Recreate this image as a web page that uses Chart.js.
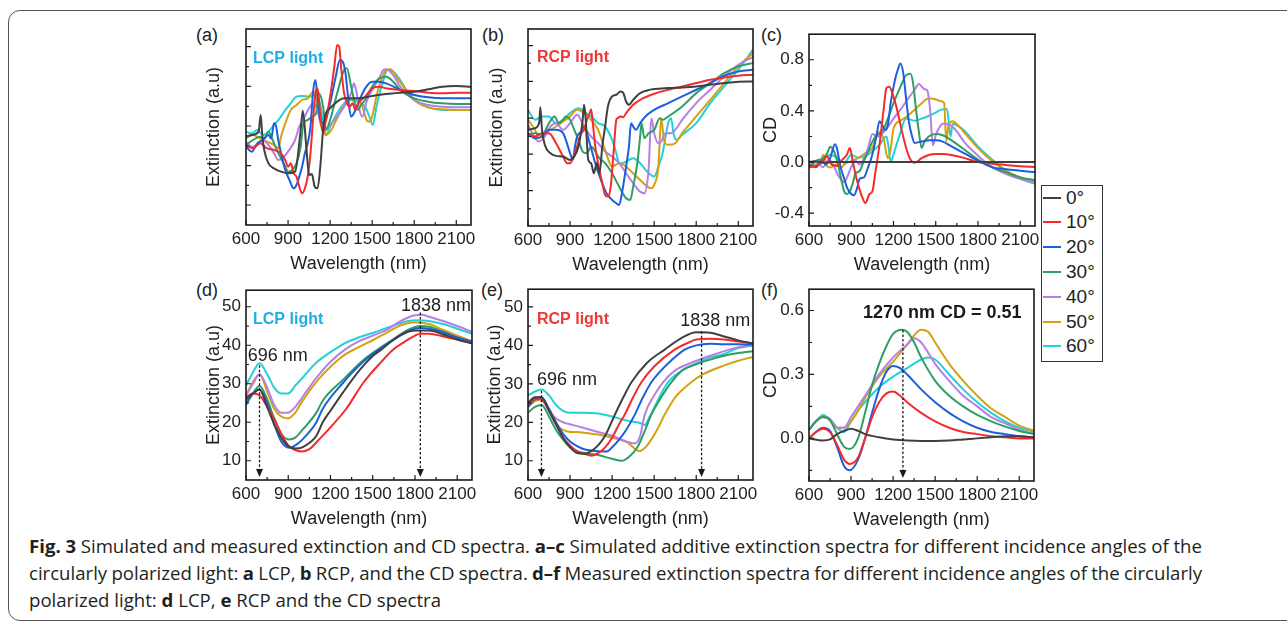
<!DOCTYPE html>
<html>
<head>
<meta charset="utf-8">
<script src="https://cdn.jsdelivr.net/npm/chart.js@4.4.1/dist/chart.umd.min.js"></script>
<style>
body { margin: 0; background: #fff; width: 1287px; height: 628px; overflow: hidden; position: relative; font-family: 'Liberation Sans', Arial, sans-serif; color: #222; }
#border { position: absolute; left: 8px; top: 10px; width: 1320px; height: 611px; border: 1.5px solid #555; border-radius: 12px; box-sizing: border-box; }
canvas { position: absolute; }
.lab { position: absolute; font-size: 18px; line-height: 20px; }
#legend { position: absolute; left: 1041px; top: 185px; width: 62px; height: 177px; border: 1.5px solid #333; box-sizing: border-box; background: #fff; }
.item { position: absolute; left: 0; height: 22px; font-size: 19px; line-height: 22px; }
.item i { position: absolute; left: 1px; top: 10px; width: 18px; height: 2px; }
.item span { position: absolute; left: 24px; top: 0; white-space: nowrap; }
.cap { position: absolute; left: 29px; font-family: 'Open Sans', sans-serif; font-size: 18px; line-height: 26px; white-space: nowrap; color: #231f20; transform-origin: 0 50%; }
</style>
</head>
<body>
<div id="border"></div>
<div class="lab" style="left:196px;top:25px">(a)</div>
<div class="lab" style="left:482px;top:25px">(b)</div>
<div class="lab" style="left:761px;top:25px">(c)</div>
<div class="lab" style="left:196px;top:280px">(d)</div>
<div class="lab" style="left:481px;top:280px">(e)</div>
<div class="lab" style="left:761px;top:280px">(f)</div>
<div id="legend"></div>
<div class="cap" data-w="1173" style="top:533px"><b>Fig. 3</b> Simulated and measured extinction and CD spectra. <b>a–c</b> Simulated additive extinction spectra for different incidence angles of the</div>
<div class="cap" data-w="1173" style="top:560px">circularly polarized light: <b>a</b> LCP, <b>b</b> RCP, and the CD spectra. <b>d–f</b> Measured extinction spectra for different incidence angles of the circularly</div>
<div class="cap" data-w="412" style="top:587px">polarized light: <b>d</b> LCP, <b>e</b> RCP and the CD spectra</div>
<script>
const angles = ['0°', '10°', '20°', '30°', '40°', '50°', '60°'];
const colors = ['#404040', '#f52a2a', '#1c5fdc', '#2f9e62', '#b87ee8', '#d4a20e', '#22d0d8'];
const xMajor = [600, 900, 1200, 1500, 1800, 2100];
const xMinor = [750, 1050, 1350, 1650, 1950];

// (a) simulated, LCP  [wavelength nm, extinction a.u.]
const a0 = [[600,26.5],[640,27],[690,28],[705,33],[715,27.5],[730,22.5],[760,18.5],[800,17],[850,16],[900,15.5],[950,16],[990,28.5],[1005,34.3],[1030,23.5],[1050,15],[1070,15.3],[1090,11.5],[1110,11],[1130,17.5],[1150,28.5],[1170,33.5],[1200,35],[1250,37],[1300,38],[1400,38],[1500,38.7],[1600,39.3],[1700,39.7],[1800,40],[1900,40.7],[2000,41.5],[2100,41.7],[2205,41.5]];
const a1 = [[600,24],[650,23],[700,24.5],[750,23],[800,22.5],[850,21.5],[880,19.5],[900,17.5],[920,18.5],[940,15.5],[960,14.5],[980,11.5],[1000,9.5],[1020,11],[1040,14.5],[1060,21.5],[1080,32.5],[1100,40.5],[1110,41],[1130,33.5],[1150,27.5],[1170,31.5],[1200,38.5],[1230,47.5],[1250,54],[1265,53.5],[1280,46.5],[1300,39.5],[1320,36.5],[1340,35.5],[1360,36.5],[1380,34.5],[1400,36.5],[1450,38.5],[1500,41],[1550,41.5],[1600,41],[1650,40.7],[1700,40.5],[1800,40.2],[1900,39.7],[2000,39.5],[2100,39.7],[2205,39.7]];
const a2 = [[600,23.5],[640,22],[680,24.5],[720,25.5],[760,27],[780,26],[800,30.5],[815,29.5],[830,25.5],[850,21.5],[880,16.5],[910,13.5],[940,11],[960,12],[980,14.5],[1000,17.5],[1020,21.5],[1040,24.5],[1060,29.5],[1080,40.5],[1095,43.5],[1110,38.5],[1130,31.5],[1150,30.5],[1170,31.5],[1200,36.5],[1240,44.5],[1270,49.5],[1290,49],[1310,45.5],[1330,37.5],[1350,32.5],[1370,33.5],[1400,36.5],[1450,41],[1500,43],[1550,43],[1600,42.5],[1700,40.5],[1800,39],[1900,38.3],[2000,38],[2100,38],[2205,38]];
const a3 = [[600,24],[650,25.5],[700,26.5],[730,26],[760,28],[790,25.5],[820,22.5],[850,20],[880,17.5],[900,16],[930,16.5],[960,18.5],[990,23.5],[1010,30.5],[1040,31.5],[1070,32.5],[1100,33.5],[1120,39.5],[1150,35.5],[1170,28.5],[1200,31.5],[1250,39.5],[1300,46.5],[1320,47],[1350,41.5],[1380,36],[1400,34.5],[1420,36],[1450,37.5],[1500,41.5],[1550,44],[1600,44.5],[1650,43],[1700,40.5],[1800,38],[1900,37],[2000,36.5],[2100,36.3],[2205,36.3]];
const a4 = [[600,25],[640,23.5],[680,24],[720,25.5],[760,24],[800,21.5],[830,19.5],[860,20],[900,22],[950,25.5],[980,29.5],[1000,31],[1050,35],[1080,36.5],[1100,35.5],[1130,31.5],[1160,28.5],[1200,30],[1250,32.5],[1300,35.5],[1350,39.5],[1370,42.5],[1390,39.5],[1410,34.5],[1430,32.5],[1460,37],[1500,40.5],[1550,44],[1580,46.5],[1600,46.7],[1650,45],[1700,41.5],[1800,37.5],[1900,36],[2000,35.5],[2100,35.3],[2205,35.3]];
const a5 = [[600,26],[650,27],[700,26],[750,25],[800,24],[830,23],[850,26.5],[880,30.5],[920,34.5],[960,36],[1000,37.5],[1040,38],[1080,40],[1100,38.5],[1130,30.5],[1170,27],[1200,28],[1250,32],[1300,36],[1350,37.7],[1400,37.7],[1430,35.5],[1460,31.5],[1480,31],[1500,32.5],[1530,38.5],[1560,43],[1600,46.5],[1630,46.7],[1680,44],[1750,40],[1800,37.5],[1900,35.3],[2000,34.7],[2100,34.5],[2205,34.5]];
const a6 = [[600,28],[640,27.5],[680,28.5],[720,27],[760,28],[790,29.5],[840,32],[880,34.5],[910,36],[960,38.5],[1000,38.7],[1050,38.5],[1100,39],[1130,36],[1150,31],[1170,27],[1200,29.5],[1250,33.5],[1300,36.5],[1340,37.5],[1400,37],[1450,35.5],[1480,32.5],[1505,30],[1530,35.5],[1570,42],[1610,46.5],[1650,46],[1700,43.5],[1750,40],[1800,37.5],[1900,35.3],[2000,34.5],[2100,34.5],[2205,34.5]];

// (b) simulated, RCP
const b0 = [[600,28.8],[650,29.3],[680,31],[688,35.6],[700,28.8],[720,24.3],[760,21.8],[800,21],[850,20.8],[900,19.8],[930,20.8],[960,23.8],[990,31.8],[1000,36.3],[1010,32.8],[1030,19.8],[1050,18.8],[1070,15.8],[1090,18.8],[1110,15.8],[1130,23.8],[1150,29.8],[1170,35.8],[1200,38.8],[1230,39.3],[1260,40.3],[1280,39.8],[1300,37.3],[1320,36.3],[1350,37.8],[1400,39.8],[1450,40.6],[1500,41],[1600,41.3],[1700,41.5],[1800,41.8],[1900,42.3],[2000,42.8],[2100,43.2],[2205,43.3]];
const b1 = [[600,27.3],[650,26.8],[700,27.8],[750,27.8],[800,24.8],[850,20.8],[880,18.8],[900,18.8],[920,20.3],[950,23.8],[980,27.8],[1000,28.8],[1020,31.8],[1040,33.8],[1050,35],[1060,31.8],[1080,23.8],[1100,18.8],[1130,12.8],[1150,9.3],[1170,8.8],[1190,11.8],[1210,21.8],[1230,31.8],[1240,32.3],[1260,32.8],[1280,32.6],[1300,33.8],[1350,36.3],[1400,37.8],[1500,39.6],[1600,40.8],[1700,41.8],[1800,42.8],[1900,43.8],[2000,44.5],[2100,45],[2205,45.3]];
const b2 = [[600,27.8],[650,26.3],[700,26.8],[750,28.8],[800,28.8],[850,27.8],[870,25.8],[900,21.8],[920,19.8],[935,23.8],[950,26.8],[980,28.3],[1000,29.8],[1040,24.8],[1080,18.8],[1120,13.8],[1160,9.8],[1200,7.8],[1230,6.8],[1250,6.3],[1270,9.8],[1300,17.8],[1320,23.8],[1335,30.8],[1350,29.8],[1370,28.8],[1400,30.8],[1450,33.3],[1500,34.8],[1600,36.8],[1700,38.8],[1800,40.8],[1900,42.8],[2000,45],[2100,46.3],[2205,46.8]];
const b3 = [[600,27.3],[650,27.8],[700,27.3],[750,30.8],[790,32.8],[820,30.8],[850,31.8],[870,32.8],[900,31.8],[930,28.8],[960,25.8],[990,22.3],[1020,21.8],[1050,23.8],[1080,22.3],[1100,20.8],[1150,18.8],[1200,15.8],[1250,11.8],[1300,8.3],[1330,7.8],[1350,11.8],[1380,18.8],[1400,26.8],[1410,30.8],[1430,26.3],[1460,27.8],[1500,28.8],[1540,32.3],[1560,31.8],[1600,32.8],[1700,35.8],[1800,39.8],[1900,42.8],[2000,45.8],[2100,47.8],[2205,48.8]];
const b4 = [[600,30.3],[650,26.3],[680,25.3],[720,26.8],[760,29.8],[800,30.8],[850,28.8],[900,30.8],[950,33.3],[1000,29.8],[1050,26.8],[1100,24.8],[1150,22.3],[1200,20.8],[1250,18.8],[1300,15.8],[1350,12.8],[1400,10.3],[1430,9.8],[1460,16.8],[1480,32.3],[1500,27.8],[1530,24.8],[1550,25.3],[1580,27.8],[1620,27.8],[1650,28.8],[1700,31.8],[1800,36.8],[1900,40.8],[2000,44.8],[2100,48.3],[2205,50.6]];
const b5 = [[600,31.8],[650,28.8],[680,26.3],[720,27.8],[760,28.8],[800,29.8],[850,31.3],[900,32.8],[950,34.8],[1000,33.8],[1050,31.8],[1100,28.8],[1150,22.8],[1200,17.8],[1250,18.8],[1300,17.8],[1350,15.8],[1400,13.8],[1450,11.8],[1480,11.3],[1500,12.3],[1530,17.8],[1550,32.3],[1570,25.8],[1600,24.3],[1650,24.8],[1700,27.8],[1800,32.8],[1900,37.8],[2000,42.8],[2100,47.8],[2205,51.8]];
const b6 = [[600,34.8],[650,31.8],[700,32.8],[750,32.8],[800,30.8],[850,31.8],[900,33.8],[960,35.3],[1000,34.3],[1050,32.8],[1100,30.8],[1150,29.8],[1200,25.8],[1230,21.8],[1250,18.8],[1270,18.8],[1300,19.3],[1350,20.3],[1400,18.8],[1450,16.3],[1500,14.8],[1530,17.8],[1560,21.8],[1600,30.8],[1620,32.3],[1640,27.3],[1660,25.8],[1700,27.3],[1800,30.8],[1900,36.8],[2000,41.8],[2100,46.8],[2205,52.8]];

// (c) simulated CD
const c0 = [[600,0],[650,0.005],[700,-0.005],[750,0],[2205,0]];
const c1 = [[600,-0.04],[650,-0.03],[700,0.01],[730,0.045],[760,-0.02],[800,-0.03],[830,0.01],[870,0.06],[890,0.11],[910,0.01],[940,-0.14],[970,-0.25],[1000,-0.32],[1030,-0.25],[1050,-0.23],[1070,-0.09],[1100,0.13],[1130,0.41],[1150,0.58],[1170,0.59],[1200,0.51],[1230,0.39],[1260,0.24],[1290,0.11],[1320,0.02],[1350,-0.005],[1400,0.03],[1450,0.055],[1500,0.063],[1550,0.063],[1600,0.058],[1700,0.033],[1800,0],[1900,-0.013],[2000,-0.023],[2100,-0.033],[2205,-0.038]];
const c2 = [[600,-0.02],[650,-0.04],[690,0.01],[720,-0.02],[750,0.03],[785,0.14],[800,0.1],[820,-0.02],[850,-0.13],[870,-0.2],[900,-0.25],[920,-0.26],[940,-0.21],[960,-0.13],[990,-0.12],[1020,-0.04],[1050,0.06],[1080,0.21],[1100,0.32],[1120,0.29],[1140,0.25],[1160,0.29],[1180,0.46],[1210,0.64],[1230,0.72],[1250,0.77],[1270,0.69],[1290,0.49],[1310,0.31],[1330,0.21],[1350,0.15],[1400,0.16],[1450,0.17],[1500,0.17],[1550,0.16],[1600,0.13],[1700,0.07],[1800,0.01],[1900,-0.04],[2000,-0.056],[2100,-0.068],[2205,-0.08]];
const c3 = [[600,-0.04],[650,0.01],[700,0.03],[730,0.07],[750,0.12],[770,0.1],[800,0.01],[830,-0.14],[850,-0.23],[870,-0.25],[890,-0.23],[910,-0.17],[930,-0.09],[960,-0.07],[990,0.01],[1020,0.08],[1050,0.16],[1080,0.21],[1100,0.22],[1130,0.26],[1160,0.34],[1200,0.46],[1250,0.59],[1290,0.68],[1320,0.69],[1340,0.61],[1360,0.41],[1380,0.24],[1400,0.11],[1420,0.16],[1450,0.2],[1500,0.22],[1550,0.21],[1600,0.18],[1700,0.1],[1800,0.02],[1900,-0.04],[2000,-0.08],[2100,-0.12],[2205,-0.14]];
const c4 = [[600,-0.005],[650,0.01],[700,-0.04],[740,0.02],[780,-0.04],[800,-0.09],[830,-0.14],[850,-0.157],[870,-0.12],[900,-0.04],[930,0.01],[960,-0.02],[990,0.03],[1020,0.11],[1050,0.22],[1070,0.21],[1100,0.2],[1130,0.235],[1170,0.29],[1200,0.34],[1250,0.41],[1300,0.49],[1350,0.565],[1380,0.61],[1420,0.57],[1440,0.56],[1460,0.41],[1480,0.13],[1500,0.21],[1520,0.26],[1550,0.3],[1600,0.29],[1650,0.24],[1700,0.16],[1800,0.05],[1900,-0.04],[2000,-0.094],[2100,-0.132],[2205,-0.157]];
const c5 = [[600,0.01],[650,-0.03],[680,-0.018],[700,0.058],[720,-0.018],[750,-0.043],[800,-0.018],[830,-0.043],[850,-0.018],[900,0.008],[950,0.033],[1000,0.07],[1050,0.11],[1080,0.21],[1100,0.235],[1130,0.18],[1160,0.03],[1180,0.1],[1200,0.26],[1250,0.324],[1300,0.36],[1350,0.41],[1400,0.46],[1450,0.5],[1500,0.49],[1540,0.475],[1560,0.46],[1575,0.16],[1590,0.286],[1620,0.32],[1660,0.286],[1700,0.235],[1800,0.109],[1900,0.008],[2000,-0.068],[2100,-0.119],[2205,-0.15]];
const c6 = [[600,-0.043],[650,-0.018],[700,0.02],[750,0.058],[800,0.033],[850,-0.005],[900,0.058],[950,0.033],[1000,0.046],[1050,0.083],[1100,0.134],[1150,0.2],[1165,0.12],[1180,0],[1200,0.06],[1240,0.2],[1290,0.34],[1350,0.324],[1400,0.34],[1450,0.36],[1500,0.387],[1540,0.41],[1580,0.415],[1605,0.2],[1620,0.3],[1650,0.286],[1700,0.248],[1800,0.122],[1900,0.02],[2000,-0.068],[2100,-0.132],[2205,-0.17]];

// (d) measured, LCP
const d0 = [[600,26],[650,27.5],[696,28.5],[750,24],[800,19.5],[850,16],[900,13.8],[950,13.2],[1000,13.5],[1100,16.5],[1145,20],[1200,23],[1288,27.7],[1408,33.6],[1500,37.2],[1551,38.6],[1650,41.5],[1750,43.5],[1814,43.8],[1900,43.8],[2000,42.8],[2100,41.5],[2205,40.5]];
const d1 = [[600,26.5],[650,27.5],[696,27],[750,24],[800,21],[850,17],[900,14],[950,12.8],[1000,12.4],[1050,13],[1100,14.8],[1193,18.4],[1312,23.5],[1432,30.2],[1551,35.3],[1650,39],[1718,40.7],[1800,42.5],[1838,43],[1900,43],[2000,42.3],[2100,41.5],[2205,40.5]];
const d2 = [[600,25],[650,27.5],[696,28.5],[750,25],[800,19.5],[850,15],[906,13.4],[950,14],[1000,15.5],[1100,20],[1145,23.5],[1288,30.2],[1432,35.7],[1540,38.8],[1623,40.8],[1750,43.7],[1838,44.5],[1900,44.3],[2000,43.3],[2100,42],[2205,41]];
const d3 = [[600,24.5],[650,27.5],[696,29.5],[750,26],[800,21],[850,17],[906,15.5],[950,16],[1000,18],[1100,22.5],[1145,25.6],[1288,31],[1432,36.1],[1540,39],[1623,41],[1750,44],[1838,45],[1900,44.8],[2000,43.5],[2100,42],[2205,41]];
const d4 = [[600,27],[650,30],[696,32.5],[750,29],[800,24.5],[850,22.5],[900,22.5],[950,24],[1000,26.5],[1100,31.5],[1200,35.7],[1300,38.8],[1400,41],[1500,42.5],[1600,44],[1700,46.3],[1800,47.8],[1850,47.9],[1900,47.4],[2000,46.3],[2100,45],[2205,43.5]];
const d5 = [[600,27],[650,30.5],[696,32.5],[750,28],[800,23.5],[850,21.5],[900,21],[950,22.5],[1000,25.5],[1100,30.5],[1200,34.4],[1300,37.5],[1400,39.5],[1500,41.3],[1600,43.3],[1700,45.2],[1800,46],[1900,45.5],[2000,44],[2100,42.5],[2205,41]];
const d6 = [[600,29.5],[650,33],[696,35.3],[750,32.5],[800,29],[850,27.5],[900,27.5],[950,29.5],[1000,31.5],[1100,35.5],[1200,38.2],[1300,40.5],[1400,42],[1500,43.2],[1600,44.5],[1700,45.8],[1800,46.5],[1900,46.3],[2000,45.5],[2100,44.3],[2205,43]];

// (e) measured, RCP
const e0 = [[600,25],[650,26.5],[696,26.5],[750,23],[800,19.5],[850,16],[900,13.5],[950,12],[1000,11.8],[1050,12.5],[1100,14],[1150,16.5],[1220,22],[1280,26.5],[1338,30.4],[1450,35.5],[1575,38.9],[1700,42],[1800,43.4],[1900,43.3],[2000,42.3],[2100,41.3],[2205,40.5]];
const e1 = [[600,24.5],[650,26],[696,26],[750,23],[800,19.5],[850,16],[900,14],[950,12.5],[1000,11.8],[1054,11.3],[1100,12],[1150,13.5],[1200,16],[1250,19.5],[1290,22],[1350,26.5],[1409,30.4],[1500,34.5],[1646,38.9],[1750,40.8],[1800,41.5],[1900,41.7],[2000,41.5],[2100,41],[2205,40.5]];
const e2 = [[600,24],[650,26],[696,26.5],[750,23.5],[800,20],[850,17],[900,15],[950,13.8],[1000,13],[1100,12.5],[1160,12.4],[1200,13.5],[1250,15.5],[1300,18],[1362,22],[1420,26.5],[1480,30.4],[1550,33.5],[1620,36],[1717,38.9],[1800,40],[1900,40.4],[2000,40.3],[2100,40.3],[2205,40.2]];
const e3 = [[600,22.5],[650,24],[696,24.5],[750,21.5],[800,18],[850,15.5],[900,13.5],[950,12.5],[1000,12],[1100,11.5],[1200,10.5],[1267,10],[1320,11],[1380,13.5],[1430,17.5],[1480,22],[1550,26.5],[1622,30.4],[1700,33.5],[1800,35.1],[1900,36.3],[2000,37.3],[2100,38],[2205,38.5]];
const e4 = [[600,25],[650,26.5],[696,26],[750,23],[800,21],[850,20],[900,19.5],[950,19],[1000,18.5],[1100,17.5],[1200,16.5],[1300,15],[1362,14.5],[1400,16.5],[1433,22],[1500,27],[1563,30.4],[1650,33.5],[1788,35.8],[1900,37.3],[2000,38.5],[2100,39.5],[2205,40.2]];
const e5 = [[600,24],[650,25.5],[696,26],[750,23],[800,19.5],[850,18],[900,17.5],[950,17.5],[1000,17.3],[1100,16.8],[1200,16],[1300,15],[1397,12.5],[1450,14],[1520,18],[1575,22],[1650,26.5],[1764,30.4],[1850,32.5],[2000,34.8],[2100,36],[2205,37]];
const e6 = [[600,27],[650,28],[696,28.5],[750,27],[800,24.5],[850,23],[900,22.5],[950,22.5],[1000,22.5],[1100,22.3],[1200,21.5],[1300,20.5],[1400,19.8],[1433,19.3],[1468,21.5],[1530,26],[1598,30.4],[1700,33.5],[1800,35.3],[1900,36.8],[2000,37.8],[2100,39.3],[2205,40]];

// (f) measured CD
const f0 = [[600,0],[700,-0.01],[750,-0.005],[800,0.02],[850,0.035],[900,0.045],[950,0.035],[1000,0.02],[1100,0.005],[1200,-0.005],[1300,-0.01],[1400,-0.012],[1500,-0.012],[1600,-0.01],[1700,-0.005],[1800,0],[1900,0.005],[2000,0.01],[2100,0.01],[2205,0.005]];
const f1 = [[600,0],[650,0.03],[700,0.045],[750,0.03],[800,-0.03],[850,-0.1],[890,-0.12],[950,-0.09],[1000,0],[1050,0.1],[1100,0.17],[1150,0.21],[1200,0.22],[1250,0.2],[1300,0.17],[1400,0.12],[1500,0.08],[1600,0.05],[1700,0.03],[1800,0.02],[1900,0.01],[2000,0.005],[2100,0],[2205,0]];
const f2 = [[600,0],[650,0.03],[700,0.05],[750,0.035],[800,-0.04],[850,-0.13],[890,-0.15],[950,-0.1],[1000,0],[1050,0.12],[1100,0.23],[1150,0.31],[1200,0.34],[1250,0.33],[1300,0.3],[1400,0.23],[1500,0.17],[1600,0.12],[1700,0.08],[1800,0.05],[1900,0.03],[2000,0.02],[2100,0.01],[2205,0.005]];
const f3 = [[600,0.04],[650,0.08],[700,0.1],[750,0.085],[800,0.02],[850,-0.04],[890,-0.05],[950,0],[1000,0.12],[1050,0.25],[1100,0.35],[1150,0.43],[1200,0.49],[1260,0.51],[1300,0.5],[1350,0.45],[1400,0.38],[1500,0.27],[1600,0.2],[1700,0.15],[1800,0.11],[1900,0.08],[2000,0.055],[2100,0.035],[2205,0.02]];
const f4 = [[600,0.04],[650,0.08],[700,0.1],[750,0.09],[800,0.05],[850,0.05],[900,0.1],[950,0.15],[1000,0.2],[1100,0.3],[1200,0.38],[1300,0.44],[1350,0.47],[1400,0.45],[1500,0.35],[1600,0.27],[1700,0.2],[1800,0.15],[1900,0.1],[2000,0.07],[2100,0.04],[2205,0.02]];
const f5 = [[600,0.04],[650,0.08],[700,0.1],[750,0.09],[800,0.05],[850,0.05],[900,0.08],[950,0.13],[1000,0.19],[1100,0.29],[1200,0.36],[1300,0.44],[1400,0.51],[1450,0.5],[1500,0.45],[1600,0.35],[1700,0.27],[1800,0.2],[1900,0.14],[2000,0.1],[2100,0.06],[2205,0.035]];
const f6 = [[600,0.04],[650,0.08],[700,0.11],[750,0.09],[800,0.05],[850,0.03],[900,0.08],[950,0.13],[1000,0.17],[1100,0.24],[1200,0.29],[1300,0.33],[1400,0.37],[1450,0.38],[1500,0.37],[1600,0.3],[1700,0.23],[1800,0.17],[1900,0.12],[2000,0.08],[2100,0.05],[2205,0.03]];

// y tick positions
const yTicksA = [6, 17.8, 29.7, 41.6, 53.5], yMinorA = [11.9, 23.7, 35.6, 47.5];
const yTicksB = [10.6, 21.5, 32.3, 43.3, 54], yMinorB = [5.1, 16, 26.8, 37.8, 48.8];
const yTicksC = [-0.4, 0, 0.4, 0.8], yMinorC = [-0.2, 0.2, 0.6];
const yTicksD = [10, 20, 30, 40, 50], yMinorD = [15, 25, 35, 45];
const yTicksF = [0, 0.3, 0.6], yMinorF = [-0.15, 0.15, 0.45];

Chart.defaults.font.family = "'Liberation Sans', Arial, sans-serif";
Chart.defaults.color = '#222';

// box, inward ticks, arrows and notes
const frame = {
  id: 'frame',
  afterDatasetsDraw(chart, args, o) {
    const {ctx, chartArea: a, scales: {x, y}} = chart;
    ctx.save();
    ctx.strokeStyle = '#1a1a1a';
    ctx.fillStyle = '#1a1a1a';
    ctx.lineWidth = 1.2;
    ctx.beginPath();
    xMajor.forEach(v => { const p = x.getPixelForValue(v); ctx.moveTo(p, a.bottom); ctx.lineTo(p, a.bottom - 5); });
    xMinor.forEach(v => { const p = x.getPixelForValue(v); ctx.moveTo(p, a.bottom); ctx.lineTo(p, a.bottom - 3); });
    o.yMajor.forEach(v => { const p = y.getPixelForValue(v); ctx.moveTo(a.left, p); ctx.lineTo(a.left + 5, p); });
    o.yMinor.forEach(v => { const p = y.getPixelForValue(v); ctx.moveTo(a.left, p); ctx.lineTo(a.left + 3, p); });
    ctx.stroke();
    (o.arrows || []).forEach(ar => {
      const px = x.getPixelForValue(ar[0]), top = y.getPixelForValue(ar[1]), tip = a.bottom - 3;
      ctx.setLineDash([2.5, 2]);
      ctx.lineWidth = 1.3;
      ctx.beginPath(); ctx.moveTo(px, top); ctx.lineTo(px, tip - 6); ctx.stroke();
      ctx.setLineDash([]);
      ctx.beginPath(); ctx.moveTo(px - 3.5, tip - 8); ctx.lineTo(px + 3.5, tip - 8); ctx.lineTo(px, tip); ctx.closePath(); ctx.fill();
    });
    ctx.lineWidth = 1.6;
    ctx.strokeRect(a.left, a.top, a.right - a.left, a.bottom - a.top);
    (o.notes || []).forEach(n => {
      ctx.font = n.font;
      ctx.fillStyle = n.color;
      ctx.textAlign = n.align;
      ctx.textBaseline = 'middle';
      ctx.fillText(n.text, x.getPixelForValue(n.x), y.getPixelForValue(n.y));
    });
    ctx.restore();
  }
};

function panel(geo, series, ys, plot) {
  const c = document.createElement('canvas');
  c.width = geo.w + (geo.R - geo.L) + 15;
  c.height = 10 + (geo.B - geo.T) + 50;
  c.style.left = (geo.L - geo.w) + 'px';
  c.style.top = (geo.T - 10) + 'px';
  document.body.appendChild(c);
  new Chart(c, {
    type: 'line',
    data: {
      datasets: series.map((s, i) => ({
        label: angles[i],
        data: s.map(p => ({x: p[0], y: p[1]})),
        borderColor: colors[i],
        borderWidth: 2,
        pointRadius: 0,
        cubicInterpolationMode: 'monotone',
        fill: false
      }))
    },
    options: {
      responsive: false,
      animation: false,
      devicePixelRatio: 1,
      layout: {padding: {left: 0, top: 10, right: 15, bottom: 0}},
      plugins: {legend: {display: false}, tooltip: {enabled: false}, frame: plot},
      scales: {
        x: {
          type: 'linear', min: 600, max: 2205,
          grid: {display: false, drawTicks: false}, border: {display: false},
          afterBuildTicks: s => { s.ticks = xMajor.map(v => ({value: v})); },
          ticks: {font: {size: 17}, padding: 4, maxRotation: 0, autoSkip: false, callback: v => String(v)},
          title: {display: true, text: 'Wavelength (nm)', font: {size: 18}, padding: 0},
          afterFit: s => { s.height = 50; }
        },
        y: {
          type: 'linear', min: ys.min, max: ys.max,
          grid: {display: false, drawTicks: false}, border: {display: false},
          afterBuildTicks: s => { s.ticks = plot.yMajor.map(v => ({value: v})); },
          ticks: {display: ys.show, font: {size: 17}, padding: 5, autoSkip: false, callback: ys.fmt},
          title: {display: true, text: ys.title, font: {size: 18}, padding: 0},
          afterFit: s => { s.width = geo.w; }
        }
      }
    },
    plugins: [frame]
  });
}

const bold16 = "bold 16px 'Liberation Sans', Arial, sans-serif";
const reg18 = "18px 'Liberation Sans', Arial, sans-serif";
const int = v => String(v);
const one = v => v.toFixed(1);

panel({L: 246, R: 471, T: 29, B: 225, w: 43}, [a0, a1, a2, a3, a4, a5, a6],
  {min: 0, max: 58.8, show: false, title: 'Extinction (a.u)', fmt: int},
  {yMajor: yTicksA, yMinor: yMinorA, notes: [{text: 'LCP light', x: 650, y: 50, color: '#1eaee6', font: bold16, align: 'left'}]});

panel({L: 528, R: 753, T: 29, B: 226, w: 42}, [b0, b1, b2, b3, b4, b5, b6],
  {min: 0, max: 59, show: false, title: 'Extinction (a.u)', fmt: int},
  {yMajor: yTicksB, yMinor: yMinorB, notes: [{text: 'RCP light', x: 664, y: 50.4, color: '#f23535', font: bold16, align: 'left'}]});

panel({L: 809, R: 1035, T: 29, B: 226, w: 49}, [c0, c1, c2, c3, c4, c5, c6],
  {min: -0.5, max: 1.0, show: true, title: 'CD', fmt: one},
  {yMajor: yTicksC, yMinor: yMinorC});

panel({L: 246, R: 472, T: 285, B: 480, w: 43}, [d0, d1, d2, d3, d4, d5, d6],
  {min: 5, max: 54.3, show: true, title: 'Extinction (a.u)', fmt: int},
  {yMajor: yTicksD, yMinor: yMinorD,
   arrows: [[696, 34.8], [1838, 48.5]],
   notes: [{text: 'LCP light', x: 650, y: 46.7, color: '#1eaee6', font: bold16, align: 'left'},
           {text: '696 nm', x: 612, y: 37.3, color: '#222', font: reg18, align: 'left'},
           {text: '1838 nm', x: 1950, y: 50.3, color: '#222', font: reg18, align: 'center'}]});

panel({L: 528, R: 753, T: 284, B: 480, w: 44}, [e0, e1, e2, e3, e4, e5, e6],
  {min: 5, max: 54.6, show: true, title: 'Extinction (a.u)', fmt: int},
  {yMajor: yTicksD, yMinor: yMinorD,
   arrows: [[696, 28.2], [1838, 43.7]],
   notes: [{text: 'RCP light', x: 664, y: 46.7, color: '#f23535', font: bold16, align: 'left'},
           {text: '696 nm', x: 664, y: 31.1, color: '#222', font: reg18, align: 'left'},
           {text: '1838 nm', x: 1935, y: 46.2, color: '#222', font: reg18, align: 'center'}]});

panel({L: 809, R: 1034, T: 284, B: 481, w: 49}, [f0, f1, f2, f3, f4, f5, f6],
  {min: -0.2, max: 0.7, show: true, title: 'CD', fmt: one},
  {yMajor: yTicksF, yMinor: yMinorF,
   arrows: [[1270, 0.508]],
   notes: [{text: '1270 nm CD = 0.51', x: 1550, y: 0.59, color: '#1a1a1a', font: "bold 18px 'Liberation Sans', Arial, sans-serif", align: 'center'}]});

// legend
const legend = document.getElementById('legend');
angles.forEach((t, i) => {
  const it = document.createElement('div');
  it.className = 'item';
  it.style.top = (13 + i * 24.8 - 12.5) + 'px';
  it.innerHTML = '<i style="background:' + colors[i] + '"></i><span>' + t + '</span>';
  legend.appendChild(it);
});

// caption: one condensing factor for all lines (from the last, unjustified line),
// then word spacing to justify the first two lines to their measured widths
const caps = Array.from(document.querySelectorAll('.cap'));
const widths = caps.map(el => el.getBoundingClientRect().width);
const squeeze = +caps[2].dataset.w / widths[2];
caps.forEach((el, i) => {
  if (i < 2) {
    const gaps = (el.textContent.match(/ /g) || []).length;
    el.style.wordSpacing = ((+el.dataset.w / squeeze - widths[i]) / gaps).toFixed(2) + 'px';
  }
  el.style.transform = 'scaleX(' + squeeze.toFixed(4) + ')';
});
</script>
</body>
</html>
